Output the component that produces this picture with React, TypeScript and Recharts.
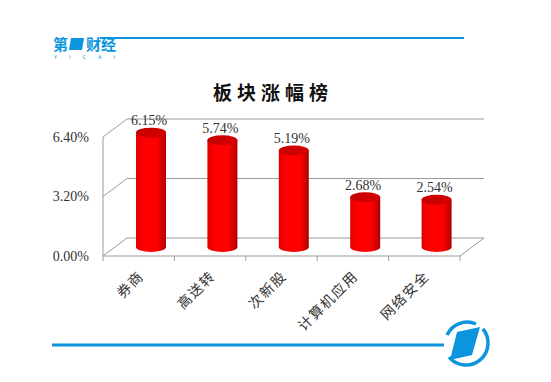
import React from "react";
import { BarChart, Bar, XAxis, YAxis, CartesianGrid, ReferenceArea, LabelList } from "recharts";

const categories = ["券商", "高送转", "次新股", "计算机应用", "网络安全"];
const values = [6.15, 5.74, 5.19, 2.68, 2.54];
const yTicks = [0, 3.2, 6.4];

const data = categories.map((name, i) => ({ name, value: values[i] }));

// 3D depth offset (back wall -> front plane)
const DX = 24;
const DY = 18;
const BLUE = "#0a95dc";
const NUM_FONT = "'Liberation Serif', serif";
const CJK_FONT = "'Noto Sans CJK SC', sans-serif";

const fmt = (v: number) => v.toFixed(2) + "%";

const YTick = (props: any) => {
  const { x, y, payload } = props;
  return (
    <g>
      <line x1={x} y1={y} x2={x - DX} y2={y + DY} stroke="#9a9a9a" />
      <text x={x - DX - 14} y={y + DY} textAnchor="end" dominantBaseline="central" fontFamily={NUM_FONT} fontSize={14} fill="#333">
        {fmt(payload.value)}
      </text>
    </g>
  );
};

const XTick = (props: any) => {
  const { x, y, payload } = props;
  const px = x - DX + 6;
  const py = y + DY + 21;
  return (
    <text x={px} y={py} textAnchor="end" transform={`rotate(-45 ${px} ${py})`} fontFamily={CJK_FONT} fontSize={14} letterSpacing={1.5} fill="#333">
      {payload.value}
    </text>
  );
};

// floor + front axis of the 3D box
const Frame = (props: any) => {
  const { x, y, width, height } = props;
  const fy = y + height + DY;
  const fx = x - DX;
  const n = categories.length;
  return (
    <g stroke="#9a9a9a" fill="none">
      <line x1={fx} y1={y + DY} x2={fx} y2={fy} />
      <line x1={fx} y1={fy} x2={fx + width} y2={fy} />
      <line x1={fx + width} y1={fy} x2={x + width} y2={y + height} />
      {Array.from({ length: n + 1 }, (_, i) => (
        <line key={i} x1={fx + (i * width) / n} y1={fy} x2={fx + (i * width) / n} y2={fy + 5} />
      ))}
    </g>
  );
};

const Cylinder = (props: any) => {
  const { x, y, width, height } = props;
  const rx = width / 2;
  const ry = 5;
  const cx = x + rx - DX / 2;
  const top = y + DY / 2;
  const bottom = y + height + DY / 2;
  return (
    <g>
      <path
        d={`M${cx - rx},${top} L${cx - rx},${bottom} A${rx},${ry} 0 0 0 ${cx + rx},${bottom} L${cx + rx},${top} Z`}
        fill="url(#cylBody)"
      />
      <ellipse cx={cx} cy={top} rx={rx} ry={ry} fill="url(#cylTop)" />
    </g>
  );
};

const ValueLabel = (props: any) => {
  const { x, y, width, value } = props;
  const cx = x + width / 2 - DX / 2 - 2;
  const top = y + DY / 2;
  return (
    <text x={cx} y={top - 7.5} textAnchor="middle" fontFamily={NUM_FONT} fontSize={14} fill="#333">
      {fmt(value)}
    </text>
  );
};

export default function App() {
  return (
    <div style={{ position: "absolute", left: 0, top: 0, width: 551, height: 382, background: "#fff" }}>
      <svg width={551} height={382} style={{ position: "absolute", left: 0, top: 0 }}>
        {/* header logo + rule */}
        <line x1={100} y1={38} x2={464} y2={38} stroke={BLUE} strokeWidth={2} />
        <text x={53} y={50} fontFamily={CJK_FONT} fontWeight="bold" fontSize={15} fill={BLUE}>第</text>
        <polygon points="71,38 84,38 82,50 69,50" fill={BLUE} />
        <text x={86} y={50} fontFamily={CJK_FONT} fontWeight="bold" fontSize={15} fill={BLUE}>财经</text>
        <text x={54} y={59} fontFamily="'DejaVu Sans', sans-serif" fontSize={5} letterSpacing={12} fill={BLUE}>YICAI</text>
        {/* title */}
        <text x={273} y={100} textAnchor="middle" fontFamily={CJK_FONT} fontWeight="bold" fontSize={19} letterSpacing={5} fill="#111">
          板块涨幅榜
        </text>
        {/* footer rule + emblem */}
        <line x1={52} y1={345} x2={444} y2={345} stroke={BLUE} strokeWidth={3} />
        <path d="M482.9,328.9 A22,22 0 0 1 449.1,357.1" fill="none" stroke={BLUE} strokeWidth={3.5} />
        <path d="M447,335 A22,22 0 0 1 476,324" fill="none" stroke={BLUE} strokeWidth={3.5} />
        <polygon points="457,332 480,327 472,355 450,360" fill={BLUE} />
      </svg>
      <div style={{ position: "absolute", left: 0, top: 0 }}>
        <BarChart width={551} height={382} data={data} margin={{ top: 119, right: 67, left: 126, bottom: 143 }}>
          <defs>
            <linearGradient id="cylBody" x1="0" y1="0" x2="1" y2="0">
              <stop offset="0%" stopColor="#e00000" />
              <stop offset="25%" stopColor="#ff0000" />
              <stop offset="70%" stopColor="#ff0000" />
              <stop offset="100%" stopColor="#b00000" />
            </linearGradient>
            <linearGradient id="cylTop" x1="0" y1="0" x2="1" y2="0">
              <stop offset="0%" stopColor="#c40000" />
              <stop offset="100%" stopColor="#d80000" />
            </linearGradient>
          </defs>
          <CartesianGrid vertical={false} stroke="#9a9a9a" />
          <XAxis dataKey="name" height={1} axisLine={false} tickLine={false} tickSize={0} tickMargin={0} interval={0} tick={<XTick />} />
          <YAxis
            domain={[0, 6.4]}
            ticks={yTicks}
            width={1}
            axisLine={false}
            tickLine={false}
            tickSize={0}
            tickMargin={0}
            tick={<YTick />}
          />
          <ReferenceArea y1={0} y2={6.4} shape={<Frame />} />
          <Bar dataKey="value" barSize={30} shape={<Cylinder />} isAnimationActive={false}>
            <LabelList dataKey="value" content={<ValueLabel />} />
          </Bar>
        </BarChart>
      </div>
    </div>
  );
}
